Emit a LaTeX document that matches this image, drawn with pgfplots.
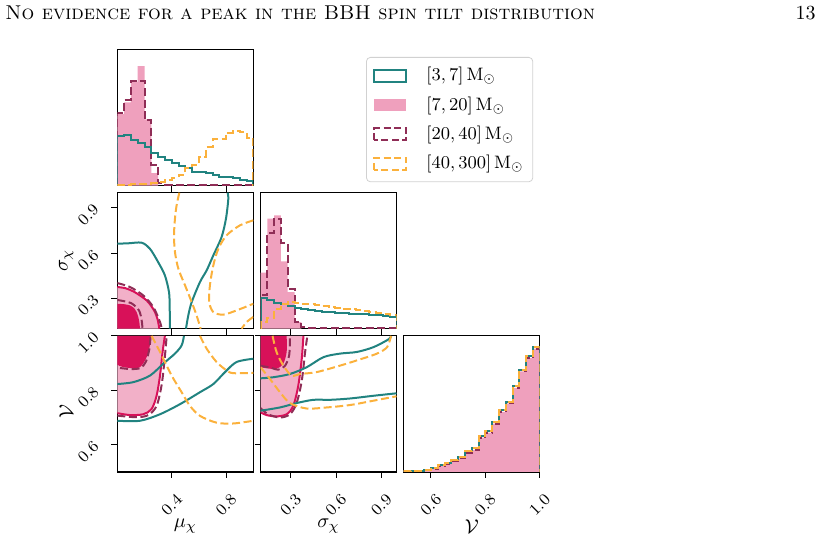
\documentclass[border=0pt]{standalone}
\usepackage{pgfplots}
\pgfplotsset{compat=1.18}

\definecolor{cTeal}{HTML}{218380}
\definecolor{cCrim}{HTML}{D81159}
\definecolor{cMaroon}{HTML}{8F2D56}
\definecolor{cOrange}{HTML}{FBB13C}
\colorlet{cPink}{cCrim!40}
\colorlet{cPinkLight}{cCrim!33}

\pgfplotsset{
  corner/.style={
    scale only axis, width=68pt, height=68pt,
    axis line style={black, line width=0.6pt},
    tick align=outside, major tick length=3pt,
    tick style={black, line width=0.5pt},
    tick pos=left,
    ticklabel style={font=\fontsize{8.1}{9}\selectfont},
    xticklabel style={yshift=-13.5pt, rotate=45, anchor=center},
    yticklabel style={xshift=-11.5pt, yshift=-3.5pt, rotate=45, anchor=center},
    label style={font=\normalsize},
    xlabel style={anchor=center, at={(axis description cs:0.5,-0.40)}},
    ylabel style={anchor=center, at={(axis description cs:-0.375,0.5)}},
  },
  tealline/.style={cTeal, line width=1pt},
  maroonline/.style={cMaroon, line width=1pt, dash pattern=on 4pt off 1.8pt},
  orangeline/.style={cOrange, line width=1pt, dash pattern=on 4pt off 1.8pt},
  crimline/.style={cCrim, line width=1pt},
  step/.style={const plot, forget plot},
}

\begin{document}
\begin{tikzpicture}
\path[use as bounding box] (0,0) rectangle (411.5pt,268pt);

\node[anchor=base west, inner sep=0pt] at (2.5pt,258pt)
  {\textsc{No evidence for a peak in the BBH spin tilt distribution}};
\node[anchor=base east, inner sep=0pt] at (408pt,258pt) {13};

% ---------------- mu_chi marginal ----------------
\begin{axis}[corner, at={(58.65pt,175.25pt)}, anchor=south west,
  xmin=0, xmax=1, ymin=0, ymax=409,
  xtick={0.4,0.8}, xticklabels={}, ytick=\empty,
  legend style={at={(axis description cs:1.829,0.945)}, anchor=north west,
    draw=black!18, rounded corners=2pt, fill=white,
    font=\fontsize{9.2}{11}\selectfont,
    inner xsep=3pt, inner ysep=3.5pt, row sep=3.4pt,
    nodes={inner sep=1.5pt}},
  legend cell align=left,
  legend image code/.code={
    \path[sharp corners,#1] (0pt,-3pt) rectangle (16pt,3pt);
    \path (-0.5pt,0pt) (24pt,0pt);},
]
\addplot[step, draw=none, fill=cPink] coordinates {
 (0,0) (0,215) (0.05,250) (0.10,312) (0.15,359) (0.20,199) (0.25,37) (0.30,0)} \closedcycle;
\addplot[step, maroonline] coordinates {
 (0,0) (0,217) (0.05,257) (0.10,315) (0.15,315) (0.20,197) (0.25,62) (0.30,7)
 (0.35,3) (0.40,3) (0.45,3) (0.50,3) (0.55,3) (0.60,3) (0.65,3) (0.70,3)
 (0.75,3) (0.80,3) (0.85,3) (0.90,3) (0.95,3) (1.0,3) (1.0,0)};
\addplot[step, tealline] coordinates {
 (0,0) (0,149) (0.05,152) (0.10,137) (0.15,127) (0.20,117) (0.25,97) (0.30,85)
 (0.35,77) (0.40,69) (0.45,60) (0.50,52) (0.55,40) (0.60,42) (0.65,37) (0.70,32)
 (0.75,27) (0.80,25) (0.85,22) (0.90,17) (0.95,15) (1.0,15) (1.0,0)};
\addplot[step, orangeline] coordinates {
 (0,0) (0,3) (0.05,3) (0.10,4) (0.15,4) (0.20,5) (0.25,7) (0.30,12)
 (0.35,18) (0.40,24) (0.45,32) (0.50,52) (0.55,62) (0.60,87) (0.65,115) (0.70,140)
 (0.75,140) (0.80,159) (0.85,164) (0.90,161) (0.95,144) (1.0,144) (1.0,0)};
\addlegendimage{draw=cTeal, line width=1pt}
\addlegendentry{$[3,7]\,\mathrm{M}_{\odot}$}
\addlegendimage{draw=none, fill=cPink}
\addlegendentry{$[7,20]\,\mathrm{M}_{\odot}$}
\addlegendimage{draw=cMaroon, line width=1pt, dash pattern=on 3.5pt off 1.8pt}
\addlegendentry{$[20,40]\,\mathrm{M}_{\odot}$}
\addlegendimage{draw=cOrange, line width=1pt, dash pattern=on 3.5pt off 1.8pt}
\addlegendentry{$[40,300]\,\mathrm{M}_{\odot}$}
\end{axis}

% ---------------- sigma_chi vs mu_chi ----------------
\begin{axis}[corner, at={(58.65pt,103.65pt)}, anchor=south west,
  xmin=0, xmax=1, ymin=0.1, ymax=1,
  xtick={0.4,0.8}, xticklabels={},
  ytick={0.3,0.6,0.9}, yticklabels={0.3,0.6,0.9},
  ylabel={$\sigma_\chi$},
]
% [7,20] filled regions
\addplot[draw=none, fill=cPinkLight, smooth, tension=0.5] coordinates {
 (0,0.376) (0.06,0.368) (0.118,0.347) (0.17,0.318) (0.216,0.287) (0.25,0.25)
 (0.277,0.21) (0.297,0.16) (0.309,0.1)} -- (axis cs:0,0.1) -- cycle;
\addplot[draw=none, fill=cCrim, smooth, tension=0.5] coordinates {
 (0,0.265) (0.05,0.262) (0.093,0.254) (0.125,0.235) (0.142,0.21) (0.155,0.175)
 (0.162,0.144) (0.167,0.1)} -- (axis cs:0,0.1) -- cycle;
\addplot[crimline, smooth, tension=0.5] coordinates {
 (0,0.376) (0.06,0.368) (0.118,0.347) (0.17,0.318) (0.216,0.287) (0.25,0.25)
 (0.277,0.21) (0.297,0.16) (0.309,0.1)};
% [20,40]
\addplot[maroonline, smooth, tension=0.5] coordinates {
 (0,0.402) (0.093,0.376) (0.191,0.32) (0.265,0.243) (0.314,0.144) (0.326,0.1)};
\addplot[maroonline, smooth, tension=0.5] coordinates {
 (0,0.29) (0.1,0.27) (0.16,0.22) (0.18,0.15) (0.185,0.1)};
% [3,7]
\addplot[tealline, smooth, tension=0.5] coordinates {
 (0,0.6625) (0.08,0.665) (0.179,0.669) (0.24,0.629) (0.30,0.541) (0.35,0.453)
 (0.38,0.343) (0.385,0.25) (0.387,0.1)};
\addplot[tealline, smooth, tension=0.5] coordinates {
 (0.505,0.1) (0.522,0.188) (0.547,0.276) (0.608,0.409) (0.657,0.486) (0.706,0.585)
 (0.767,0.707) (0.799,0.828) (0.816,0.956) (0.811,1.0)};
% [40,300]
\addplot[orangeline, smooth, tension=0.5] coordinates {
 (0.456,1.0) (0.436,0.916) (0.424,0.828) (0.417,0.718) (0.424,0.607) (0.449,0.497)
 (0.498,0.387) (0.547,0.276) (0.583,0.188) (0.613,0.1)};
\addplot[orangeline, smooth, tension=0.5] coordinates {
 (1.0,0.817) (0.902,0.784) (0.804,0.718) (0.743,0.629) (0.706,0.519) (0.681,0.387)
 (0.676,0.276) (0.706,0.21) (0.779,0.193) (0.877,0.221) (1.0,0.265)};
\addplot[orangeline, smooth, tension=0.5] coordinates {
 (1.0,0.178) (0.951,0.144) (0.914,0.1)};
\end{axis}

% ---------------- sigma_chi marginal ----------------
\begin{axis}[corner, at={(130.25pt,103.65pt)}, anchor=south west,
  xmin=0.1, xmax=1, ymin=0, ymax=408,
  xtick={0.3,0.6,0.9}, xticklabels={}, ytick=\empty,
]
\addplot[step, draw=none, fill=cPink] coordinates {
 (0.1,0) (0.1,168) (0.145,330) (0.19,340) (0.235,202) (0.28,110) (0.325,20) (0.37,0)} \closedcycle;
\addplot[step, maroonline] coordinates {
 (0.1,0) (0.1,100) (0.145,287) (0.19,330) (0.235,258) (0.28,118) (0.325,20) (0.37,5)
 (0.415,3) (0.46,3) (0.505,1) (0.55,1) (0.595,1) (0.64,1) (0.685,1) (0.73,1)
 (0.775,1) (0.82,1) (0.865,1) (0.91,1) (0.955,1) (1.0,1) (1.0,0)};
\addplot[step, tealline] coordinates {
 (0.1,0) (0.1,92) (0.145,85) (0.19,78) (0.235,75) (0.28,68) (0.325,62) (0.37,58)
 (0.415,55) (0.46,52) (0.505,50) (0.55,50) (0.595,47) (0.64,47) (0.685,45) (0.73,43)
 (0.775,43) (0.82,40) (0.865,40) (0.91,38) (0.955,35) (1.0,35) (1.0,0)};
\addplot[step, orangeline] coordinates {
 (0.1,0) (0.1,20) (0.145,32) (0.19,58) (0.235,75) (0.28,80) (0.325,78) (0.37,75)
 (0.415,73) (0.46,70) (0.505,68) (0.55,65) (0.595,63) (0.64,60) (0.685,58) (0.73,55)
 (0.775,53) (0.82,50) (0.865,48) (0.91,45) (0.955,40) (1.0,40) (1.0,0)};
\end{axis}

% ---------------- nu vs mu_chi ----------------
\begin{axis}[corner, at={(58.65pt,32.05pt)}, anchor=south west,
  xmin=0, xmax=1, ymin=0.5, ymax=1,
  xtick={0.4,0.8}, xticklabels={0.4,0.8},
  ytick={0.6,0.8,1.0}, yticklabels={0.6,0.8,1.0},
  xlabel={$\mu_\chi$}, ylabel={$\mathcal{V}$},
  ylabel style={xshift=-4pt},
]
\addplot[draw=none, fill=cPinkLight, smooth, tension=0.5] coordinates {
 (0,0.716) (0.093,0.709) (0.191,0.712) (0.252,0.731) (0.289,0.78) (0.314,0.854)
 (0.333,0.941) (0.35,1.0)} -- (axis cs:0,1) -- cycle;
\addplot[draw=none, fill=cCrim, smooth, tension=0.5] coordinates {
 (0,0.894) (0.044,0.885) (0.142,0.881) (0.179,0.891) (0.216,0.922) (0.24,0.965)
 (0.252,1.0)} -- (axis cs:0,1) -- cycle;
\addplot[crimline, smooth, tension=0.5] coordinates {
 (0,0.716) (0.093,0.709) (0.191,0.712) (0.252,0.731) (0.289,0.78) (0.314,0.854)
 (0.333,0.941) (0.35,1.0)};
\addplot[maroonline, smooth, tension=0.5] coordinates {
 (0,0.707) (0.142,0.701) (0.228,0.709) (0.289,0.743) (0.326,0.82) (0.349,0.92) (0.363,1.0)};
\addplot[maroonline, smooth, tension=0.5] coordinates {
 (0.02,0.882) (0.1,0.878) (0.17,0.882) (0.21,0.905) (0.235,0.95) (0.245,1.0)};
\addplot[tealline, smooth, tension=0.5] coordinates {
 (0,0.823) (0.118,0.83) (0.24,0.854) (0.338,0.898) (0.424,0.935) (0.473,0.965) (0.49,1.0)};
\addplot[tealline, smooth, tension=0.5] coordinates {
 (0,0.688) (0.167,0.688) (0.314,0.712) (0.461,0.749) (0.608,0.793) (0.706,0.823)
 (0.792,0.867) (0.877,0.904) (1.0,0.916)};
\addplot[orangeline, smooth, tension=0.5] coordinates {
 (0.252,1.0) (0.314,0.941) (0.4,0.854) (0.473,0.793) (0.534,0.743) (0.608,0.706)
 (0.73,0.681) (0.853,0.678) (1.0,0.688)};
\addplot[orangeline, smooth, tension=0.5] coordinates {
 (0.608,1.0) (0.657,0.953) (0.73,0.904) (0.804,0.873) (0.853,0.863) (1.0,0.864)};
\end{axis}

% ---------------- nu vs sigma_chi ----------------
\begin{axis}[corner, at={(130.25pt,32.05pt)}, anchor=south west,
  xmin=0.1, xmax=1, ymin=0.5, ymax=1,
  xtick={0.3,0.6,0.9}, xticklabels={0.3,0.6,0.9},
  ytick={0.6,0.8,1.0}, yticklabels={},
  xlabel={$\sigma_\chi$},
]
\addplot[draw=none, fill=cPinkLight, smooth, tension=0.5] coordinates {
 (0.1,0.719) (0.14,0.709) (0.206,0.704) (0.273,0.712) (0.317,0.743) (0.35,0.817)
 (0.373,0.916) (0.384,1.0)} -- (axis cs:0.1,1) -- cycle;
\addplot[draw=none, fill=cCrim, smooth, tension=0.5] coordinates {
 (0.1,0.885) (0.14,0.881) (0.206,0.879) (0.251,0.898) (0.273,0.941) (0.273,1.0)}
 -- (axis cs:0.1,1) -- cycle;
\addplot[crimline, smooth, tension=0.5] coordinates {
 (0.1,0.719) (0.14,0.709) (0.206,0.704) (0.273,0.712) (0.317,0.743) (0.35,0.817)
 (0.373,0.916) (0.384,1.0)};
\addplot[maroonline, smooth, tension=0.5] coordinates {
 (0.1,0.735) (0.15,0.712) (0.229,0.7) (0.295,0.712) (0.339,0.753) (0.373,0.835)
 (0.395,0.94) (0.41,1.0)};
\addplot[maroonline, smooth, tension=0.5] coordinates {
 (0.1,0.89) (0.162,0.884) (0.218,0.876) (0.262,0.89) (0.29,0.93) (0.295,1.0)};
\addplot[tealline, smooth, tension=0.5] coordinates {
 (0.1,0.844) (0.184,0.848) (0.295,0.86) (0.406,0.885) (0.517,0.922) (0.628,0.935)
 (0.738,0.941) (0.849,0.959) (0.949,0.988) (0.964,1.0)};
\addplot[tealline, smooth, tension=0.5] coordinates {
 (0.1,0.725) (0.229,0.737) (0.339,0.753) (0.45,0.765) (0.561,0.765) (0.694,0.77)
 (0.849,0.78) (1.0,0.789)};
\addplot[orangeline, smooth, tension=0.5] coordinates {
 (0.18,1.0) (0.206,0.941) (0.251,0.891) (0.306,0.854) (0.362,0.86) (0.472,0.867)
 (0.628,0.891) (0.738,0.91) (0.871,0.935) (0.938,0.959) (0.964,1.0)};
\addplot[orangeline, smooth, tension=0.5] coordinates {
 (0.1,0.885) (0.162,0.842) (0.229,0.793) (0.295,0.753) (0.406,0.733) (0.539,0.737)
 (0.694,0.746) (0.849,0.762) (1.0,0.778)};
\end{axis}

% ---------------- nu marginal ----------------
\begin{axis}[corner, at={(201.85pt,32.05pt)}, anchor=south west,
  xmin=0.5, xmax=1, ymin=0, ymax=405,
  xtick={0.6,0.8,1.0}, xticklabels={0.6,0.8,1.0}, ytick=\empty,
  xlabel={$\mathcal{V}$},
]
\addplot[step, draw=none, fill=cPink] coordinates {
 (0.5,0) (0.5,2) (0.525,3) (0.55,3) (0.575,5) (0.6,10) (0.625,17) (0.65,24)
 (0.675,31) (0.7,40) (0.725,57) (0.75,65) (0.775,102) (0.8,117) (0.825,144)
 (0.85,179) (0.875,204) (0.9,250) (0.925,299) (0.95,339) (0.975,367) (1.0,367) (1.0,0)} \closedcycle;
\addplot[step, maroonline] coordinates {
 (0.5,0) (0.5,2) (0.525,3) (0.55,3) (0.575,5) (0.6,10) (0.625,17) (0.65,24)
 (0.675,31) (0.7,40) (0.725,57) (0.75,65) (0.775,102) (0.8,117) (0.825,144)
 (0.85,179) (0.875,204) (0.9,250) (0.925,299) (0.95,339) (0.975,367) (1.0,367) (1.0,0)};
\addplot[step, tealline] coordinates {
 (0.5,0) (0.5,3) (0.525,4) (0.55,4) (0.575,6) (0.6,12) (0.625,20) (0.65,27)
 (0.675,34) (0.7,44) (0.725,62) (0.75,70) (0.775,106) (0.8,122) (0.825,149)
 (0.85,184) (0.875,208) (0.9,255) (0.925,304) (0.95,344) (0.975,372) (1.0,372) (1.0,0)};
\addplot[step, orangeline] coordinates {
 (0.5,0) (0.5,3) (0.525,4) (0.55,4) (0.575,6) (0.6,12) (0.625,20) (0.65,27)
 (0.675,34) (0.7,44) (0.725,62) (0.75,70) (0.775,106) (0.8,122) (0.825,149)
 (0.85,184) (0.875,208) (0.9,255) (0.925,304) (0.95,344) (0.975,372) (1.0,372) (1.0,0)};
\end{axis}
\end{tikzpicture}
\end{document}
